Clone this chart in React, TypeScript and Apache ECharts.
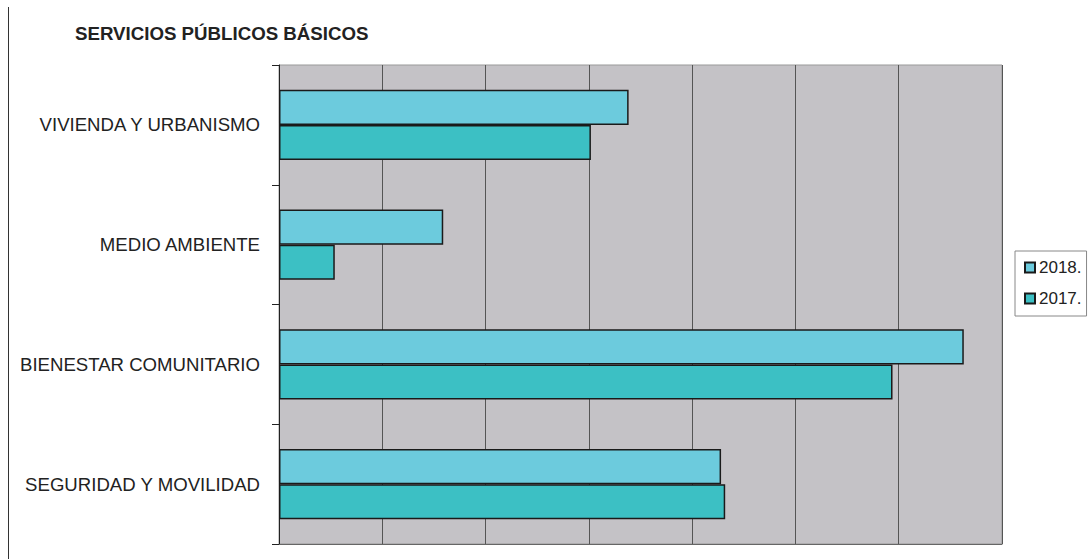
import React, { useEffect, useRef } from "react";
import * as echarts from "echarts";

const categories = [
  "VIVIENDA Y URBANISMO",
  "MEDIO AMBIENTE",
  "BIENESTAR COMUNITARIO",
  "SEGURIDAD Y MOVILIDAD",
];
const values2018 = [3.385, 1.59, 6.63, 4.28];
const values2017 = [3.02, 0.54, 5.94, 4.32];
const seriesNames = ["2018.", "2017."];
const titleText = "SERVICIOS PÚBLICOS BÁSICOS";

export default function App() {
  const ref = useRef<HTMLDivElement>(null);
  useEffect(() => {
    if (!ref.current) return;
    const chart = echarts.init(ref.current, null, { renderer: "svg" });
    const font = "'Liberation Sans', Arial, sans-serif";
    chart.setOption({
      animation: false,
      backgroundColor: "#ffffff",
      title: {
        text: titleText,
        left: 75,
        top: 24,
        padding: 0,
        textStyle: { fontSize: 18.7, fontWeight: "bold", color: "#222", fontFamily: font },
      },
      graphic: [
        {
          type: "line",
          shape: { x1: 8.5, y1: 7, x2: 8.5, y2: 559 },
          style: { stroke: "#333", lineWidth: 1 },
        },
      ],
      legend: {
        orient: "vertical",
        left: 1015,
        top: 251,
        data: seriesNames,
        icon: "rect",
        itemWidth: 10,
        itemHeight: 10,
        itemGap: 14,
        padding: [8, 5, 9, 9],
        backgroundColor: "#fff",
        borderColor: "#888",
        borderWidth: 1,
        borderRadius: 0,
        textStyle: { fontSize: 17, color: "#222", fontFamily: font, padding: [0, 0, 0, -1], lineHeight: 17 },
      },
      grid: {
        left: 279,
        right: 88,
        top: 65,
        bottom: 15,
        show: true,
        backgroundColor: "#C4C2C6",
        borderColor: "#999",
        borderWidth: 1,
        containLabel: false,
      },
      xAxis: {
        type: "value",
        min: 0,
        max: 7,
        interval: 1,
        axisLabel: { show: false },
        axisTick: { show: false },
        axisLine: { show: true, lineStyle: { color: "#666", width: 1 } },
        splitLine: { show: true, lineStyle: { color: "#555", width: 1 } },
      },
      yAxis: {
        type: "category",
        data: categories,
        inverse: true,
        axisLine: { show: true, lineStyle: { color: "#222", width: 1 } },
        axisTick: { show: true, length: 7, inside: false, lineStyle: { color: "#222" } },
        axisLabel: { fontSize: 18.6, color: "#222", margin: 19, fontFamily: font },
        splitLine: { show: false },
      },
      series: [
        {
          name: seriesNames[0],
          type: "bar",
          data: values2018,
          barGap: "0%",
          barCategoryGap: "41.5%",
          itemStyle: { color: "#6CCBDD", borderColor: "#1a1a1a", borderWidth: 1.5 },
        },
        {
          name: seriesNames[1],
          type: "bar",
          data: values2017,
          barGap: "0%",
          barCategoryGap: "41.5%",
          itemStyle: { color: "#3CC0C4", borderColor: "#1a1a1a", borderWidth: 1.5 },
        },
      ],
    });
    return () => chart.dispose();
  }, []);
  return (
    <div
      ref={ref}
      style={{ position: "absolute", left: 0, top: 0, width: 1090, height: 559 }}
    />
  );
}
